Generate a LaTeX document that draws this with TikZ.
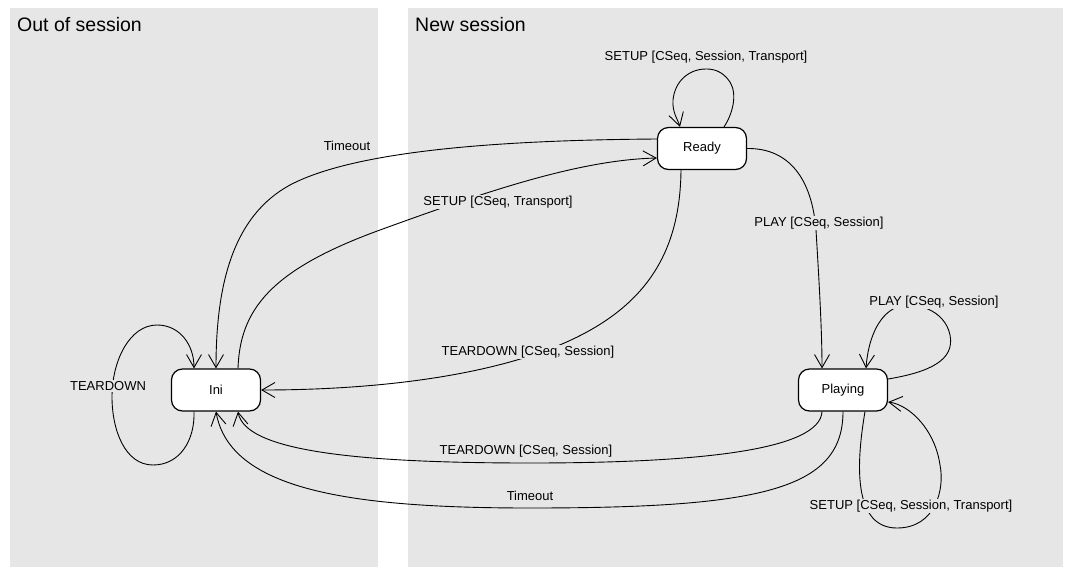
\documentclass[tikz,border=0pt]{standalone}
\usepackage{fontspec}
\setmainfont{Liberation Sans}
\usetikzlibrary{arrows.meta}
\definecolor{panel}{RGB}{230,230,230}
\tikzset{
  state/.style={draw=black, line width=1.2pt, fill=white, rounded corners=11pt,
    minimum width=89pt, minimum height=42pt, inner sep=0pt,
    font=\fontsize{13}{15}\selectfont},
  lbl/.style={fill=panel, inner sep=1pt, font=\fontsize{13}{15}\selectfont},
  ttl/.style={anchor=west, inner sep=0pt, font=\fontsize{19.5}{22}\selectfont},
  conn/.style={line width=0.9pt, -{Straight Barb[length=13pt,width=15pt]}},
}
\begin{document}
\begin{tikzpicture}[x=1pt,y=-1pt]
\useasboundingbox (0,0) rectangle (1076,581);
\fill[panel] (10,8) rectangle (378,567);
\fill[panel] (408,8) rectangle (1063,567);
\node[ttl] (t1) at (17,25) {Out of session};
\node[ttl] (t2) at (415,25) {New session};

\node[state] (ini) at (216,390) {Ini};
\node[state] (ready) at (702,148.5) {Ready};
\node[state] (playing) at (843,390) {Playing};

% Ini self loop
\draw[conn] ([xshift=-22pt]ini.south) .. controls (195,440) and (180,465) .. (153,465)
  .. controls (125,465) and (112,430) .. (112,397)
  .. controls (112,360) and (130,325) .. (157,325)
  .. controls (180,325) and (194,345) .. ([xshift=-22pt]ini.north);
% Timeout top
\draw[conn] ([yshift=9.5pt]ready.west) .. controls (520,140) and (360,148) .. (290,185)
  .. controls (235,215) and (216,280) .. (ini.north);
% SETUP [CSeq, Transport]
\draw[conn] ([xshift=22pt]ini.north) .. controls (240,310) and (270,270) .. (380,230)
  .. controls (490,190) and (580,160) .. ([yshift=-9.5pt]ready.west);
% TEARDOWN ready -> ini
\draw[conn] ([xshift=-21pt]ready.south) .. controls (680,260) and (640,320) .. (530,356)
  .. controls (440,385) and (330,390) .. (ini.east);
% PLAY ready -> playing
\draw[conn] (ready.east) .. controls (790,148) and (812,180) .. (816,230)
  .. controls (819,280) and (822,330) .. ([xshift=-21pt]playing.north);
% Playing PLAY loop
\draw[conn] ([yshift=11pt]playing.east) .. controls (930,372) and (955,360) .. (950,335)
  .. controls (945,310) and (915,300) .. (895,308)
  .. controls (878,316) and (868,340) .. ([xshift=23pt]playing.north);
% Playing SETUP loop
\draw[conn] ([xshift=22pt]playing.south) .. controls (855,470) and (855,528) .. (897,528)
  .. controls (935,528) and (945,490) .. (940,465)
  .. controls (935,430) and (910,405) .. ([yshift=-12pt]playing.east);
% TEARDOWN playing -> ini
\draw[conn] ([xshift=-21pt]playing.south) .. controls (820,450) and (700,463) .. (530,463)
  .. controls (350,463) and (245,450) .. ([xshift=22pt]ini.south);
% Timeout bottom
\draw[conn] (playing.south) .. controls (843,490) and (760,508) .. (530,508)
  .. controls (350,508) and (230,490) .. (ini.south);

\node[lbl] (l1) at (108,386) {TEARDOWN};
\node[lbl] (l2) at (347,146) {Timeout};
\node[lbl] (l3) at (498,202) {SETUP [CSeq, Transport]};
\node[lbl] (l4) at (528,352) {TEARDOWN [CSeq, Session]};
\node[lbl] (l5) at (706,57) {SETUP [CSeq, Session, Transport]};
\node[lbl] (l6) at (819,223) {PLAY [CSeq, Session]};
\node[lbl] (l7) at (934,302) {PLAY [CSeq, Session]};
\node[lbl] (l8) at (911,506) {SETUP [CSeq, Session, Transport]};
\node[lbl] (l9) at (526,451) {TEARDOWN [CSeq, Session]};
\node[lbl] (l10) at (530,496) {Timeout};

% Ready self loop
\draw[conn] ([xshift=22pt]ready.north) .. controls (732,115) and (738,95) .. (730,82)
  .. controls (722,70) and (712,69) .. (706,69)
  .. controls (690,69) and (675,80) .. (673,100)
  .. controls (672,112) and (678,120) .. ([xshift=-22pt]ready.north);
\end{tikzpicture}
\end{document}
